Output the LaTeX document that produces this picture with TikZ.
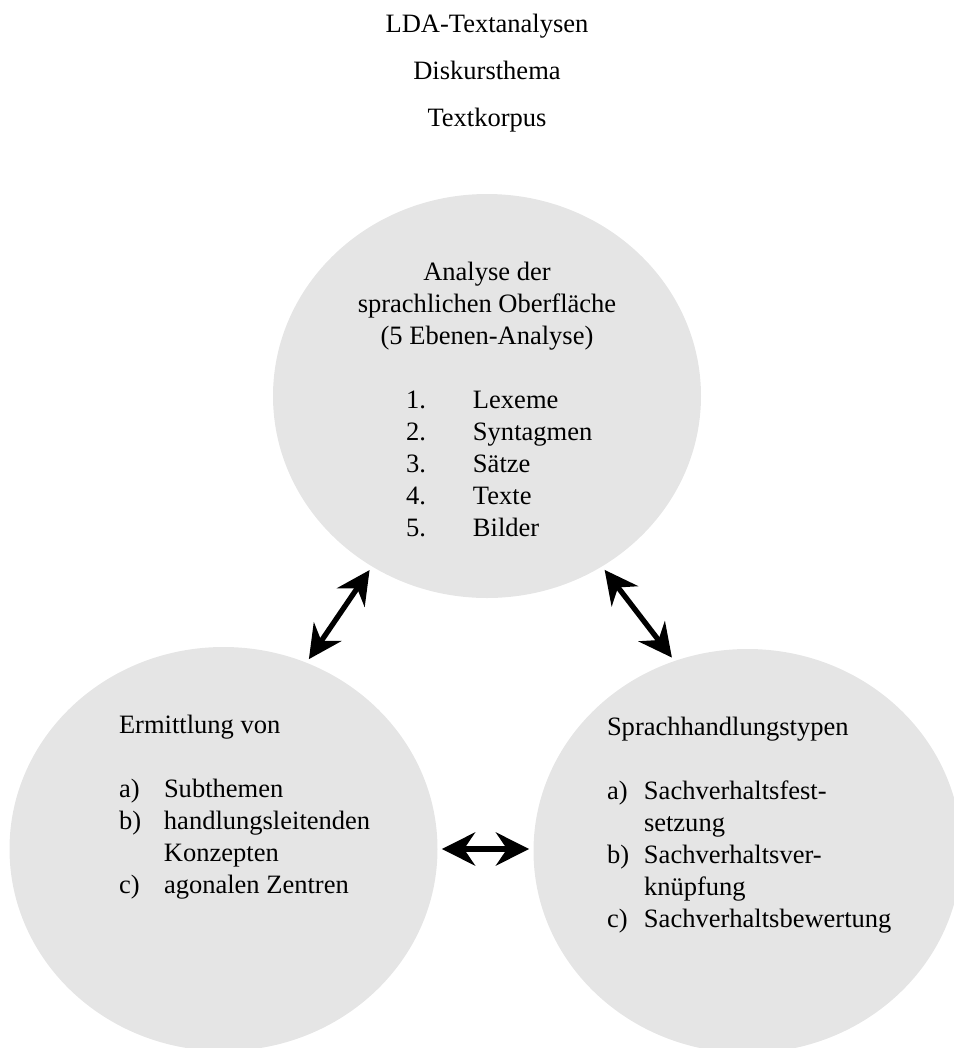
\documentclass[tikz,border=0pt]{standalone}
\usepackage{fontspec}
\setmainfont{Liberation Serif}
\usepackage{tikz}
\usetikzlibrary{arrows.meta,shapes.geometric,positioning}
\newdimen\pxu
\pxu=0.4525pt
\tikzset{
  bubble/.style={ellipse,fill=gray!20,draw=none,inner sep=0pt,outer sep=0pt,
                 minimum width=428\pxu,minimum height=404\pxu},
  link/.style={<->,>={Stealth[length=15pt,width=15pt,inset=5pt]},line width=2.4pt,
               shorten <=2pt,shorten >=2pt},
  lbl/.style={inner sep=0pt,outer sep=0pt}
}

\begin{document}
\begin{tikzpicture}[x=0.4525pt,y=-0.4525pt,font=\fontsize{12}{14.48}\selectfont]
  \useasboundingbox (0,0) rectangle (954,1048);
  \node[bubble] (analyse) at (487,396) {};
  \node[bubble] (ermittlung) at (223.5,849) {};
  \node[bubble] (handlung) at (747.5,851) {};

  \node[lbl,anchor=base] (lda) at (487,32) {LDA-Textanalysen};
  \node[lbl,anchor=base] (thema) at (487,79) {Diskursthema};
  \node[lbl,anchor=base] (korpus) at (487,126) {Textkorpus};

  \node[lbl,anchor=base] (analysekopf) at (487,280)
    {\begin{tabular}[t]{@{}c@{}}Analyse der\\sprachlichen Oberfläche\\(5 Ebenen-Analyse)\end{tabular}};
  \node[lbl,anchor=base west] (ebenen) at (406,408)
    {\begin{tabular}[t]{@{}p{67\pxu}@{}l@{}}
      1. & Lexeme\\ 2. & Syntagmen\\ 3. & Sätze\\ 4. & Texte\\ 5. & Bilder
    \end{tabular}};

  \node[lbl,anchor=base west] (ermtext) at (119,733)
    {\begin{tabular}[t]{@{}p{45\pxu}@{}l@{}}
      \multicolumn{2}{@{}l@{}}{Ermittlung von}\\ \\
      a) & Subthemen\\ b) & handlungsleitenden\\ & Konzepten\\ c) & agonalen Zentren
    \end{tabular}};
  \node[lbl,anchor=base west] (handltext) at (607,735)
    {\begin{tabular}[t]{@{}p{37\pxu}@{}l@{}}
      \multicolumn{2}{@{}l@{}}{Sprachhandlungstypen}\\ \\
      a) & Sachverhaltsfest-\\ & setzung\\ b) & Sachverhaltsver-\\ & knüpfung\\
      c) & Sachverhaltsbewertung
    \end{tabular}};

  \draw[link] (ermittlung.66) -- (analyse.236);
  \draw[link] (analyse.304) -- (handlung.111);
  \draw[link] (ermittlung.east) -- (ermittlung.east -| handlung.west);
\end{tikzpicture}
\end{document}
